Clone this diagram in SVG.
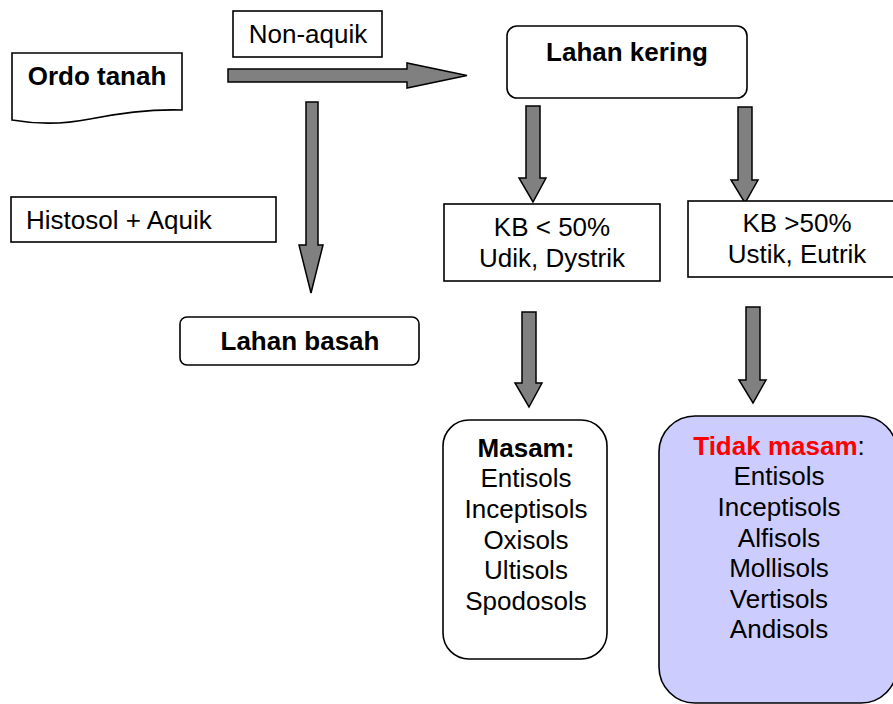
<svg xmlns="http://www.w3.org/2000/svg" width="893" height="704" viewBox="0 0 893 704">
<style>
text{font-family:"Liberation Sans",Arial,sans-serif;font-size:26px;fill:#000}
.b{font-weight:bold}
.box{fill:#fff;stroke:#000;stroke-width:1.6}
.arr{fill:#808080;stroke:#000;stroke-width:1.5;stroke-linejoin:miter}
</style>
<rect width="893" height="704" fill="#fff"/>
<g id="connectors">
<path class="arr" d="M228,69 H407 V63 L467,75.5 L407,88 V82 H228 Z"/>
<path class="arr" d="M306,102 H318 V245 H323 L311,293 L299,245 H306 Z"/>
<path class="arr" d="M526,106 H540 V178 H546 L533,202 L519,178 H526 Z"/>
<path class="arr" d="M738,107 H752 V180 H758 L745,203 L731,180 H738 Z"/>
<path class="arr" d="M522,312 H536 V383 H542 L529,407 L515,383 H522 Z"/>
<path class="arr" d="M746,307 H760 V380 H766 L753,403 L739,380 H746 Z"/>
</g>
<g id="ordo-tanah">
<path class="box" d="M12,53 H182 V110 C150,109 120,113 90,119 C60,125 35,124 12,120 Z"/>
<text class="b" x="97" y="85" text-anchor="middle">Ordo tanah</text>
</g>
<g id="non-aquik">
<rect class="box" x="233" y="11" width="149" height="46"/>
<text x="308" y="43" text-anchor="middle">Non-aquik</text>
</g>
<g id="lahan-kering">
<rect class="box" x="507" y="26" width="240" height="72" rx="10"/>
<text class="b" x="627" y="61" text-anchor="middle">Lahan kering</text>
</g>
<g id="histosol-aquik">
<rect class="box" x="11" y="197" width="265" height="45"/>
<text x="26" y="229">Histosol + Aquik</text>
</g>
<g id="lahan-basah">
<rect class="box" x="180" y="317" width="239" height="48" rx="7"/>
<text class="b" x="300" y="350" text-anchor="middle">Lahan basah</text>
</g>
<g id="kb-kurang">
<rect class="box" x="444" y="204" width="216" height="77"/>
<text x="552" y="236" text-anchor="middle">KB &lt; 50%</text>
<text x="552" y="267" text-anchor="middle">Udik, Dystrik</text>
</g>
<g id="kb-lebih">
<rect class="box" x="688" y="201" width="220" height="76"/>
<text x="797" y="232" text-anchor="middle">KB &gt;50%</text>
<text x="797" y="263" text-anchor="middle">Ustik, Eutrik</text>
</g>
<g id="masam">
<rect class="box" x="443" y="420" width="164" height="239" rx="26"/>
<text x="526" y="457" text-anchor="middle"><tspan class="b">Masam:</tspan></text>
<text x="526" y="487" text-anchor="middle">Entisols</text>
<text x="526" y="518" text-anchor="middle">Inceptisols</text>
<text x="526" y="549" text-anchor="middle">Oxisols</text>
<text x="526" y="579" text-anchor="middle">Ultisols</text>
<text x="526" y="610" text-anchor="middle">Spodosols</text>
</g>
<g id="tidak-masam">
<rect x="659" y="416" width="238" height="287" rx="36" fill="#ccccff" stroke="#000" stroke-width="1.6"/>
<text x="779" y="455" text-anchor="middle"><tspan class="b" style="fill:#ff0000">Tidak masam</tspan>:</text>
<text x="779" y="485" text-anchor="middle">Entisols</text>
<text x="779" y="516" text-anchor="middle">Inceptisols</text>
<text x="779" y="547" text-anchor="middle">Alfisols</text>
<text x="779" y="577" text-anchor="middle">Mollisols</text>
<text x="779" y="608" text-anchor="middle">Vertisols</text>
<text x="779" y="638" text-anchor="middle">Andisols</text>
</g>
</svg>
